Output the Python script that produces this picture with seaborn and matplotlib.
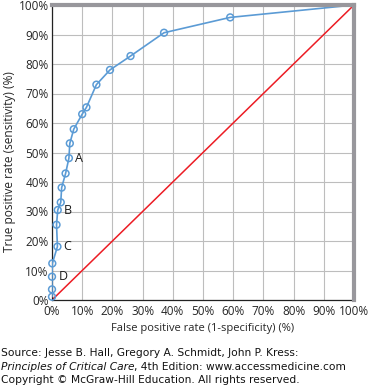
import matplotlib
matplotlib.use("Agg")
import matplotlib.pyplot as plt
import seaborn as sns
import pandas as pd

# ROC points (false positive rate %, true positive rate %)
fpr = [0.0, 0.0, 0.0, 0.1, 1.8, 1.5, 1.9, 2.9, 3.2, 4.5, 5.6, 5.9, 7.2, 10.0, 11.4,
       14.7, 19.2, 26.0, 37.1, 59.0, 100.0]
tpr = [1.1, 3.6, 7.9, 12.4, 18.1, 25.5, 30.5, 33.1, 38.1, 42.9, 48.1, 53.1, 57.9, 63.0,
       65.3, 73.0, 78.0, 82.7, 90.6, 95.8, 100.0]

point_labels = ["A", "B", "C", "D"]
label_fpr = [5.6, 1.9, 1.8, 0.0]
label_tpr = [48.1, 30.5, 18.1, 7.9]

chance = [0, 100]
ticks = list(range(0, 101, 10))
tick_labels = [f"{t}%" for t in ticks]

roc = pd.DataFrame({"fpr": fpr, "tpr": tpr})
diag = pd.DataFrame({"x": chance, "y": chance})

sns.set_style("white")
plt.rcParams["font.family"] = ["Open Sans", "DejaVu Sans"]

fig = plt.figure(figsize=(3.7, 3.87), dpi=100)
ax = fig.add_axes([52 / 370, 1 - 300 / 387, 302 / 370, 295 / 387])

blue = "#5b9bd5"
sns.lineplot(data=diag, x="x", y="y", ax=ax, color="#ec1c24", lw=1.1, zorder=2)
sns.lineplot(data=roc, x="fpr", y="tpr", ax=ax, color=blue, lw=1.2, sort=False,
             estimator=None, zorder=3)
ax.scatter(roc["fpr"][:-1], roc["tpr"][:-1], s=24, facecolor="none",
           edgecolor=blue, lw=1.1, zorder=4, clip_on=False)

for lab, x, y in zip(point_labels, label_fpr, label_tpr):
    ax.annotate(lab, (x, y), xytext=(4.5, 0), textcoords="offset points",
                va="center", ha="left", fontsize=9, color="#1a1a1a")

ax.set_xlim(0, 100)
ax.set_ylim(0, 100)
ax.set_xticks(ticks)
ax.set_yticks(ticks)
ax.set_xticklabels(tick_labels, fontsize=8.5)
ax.set_yticklabels(tick_labels, fontsize=8.5)
ax.tick_params(axis="x", length=0, pad=3.5)
ax.tick_params(axis="y", length=0, pad=2.5)
ax.grid(True, color="#bdbdbd", lw=0.8, zorder=0)
ax.set_axisbelow(True)

ax.spines["left"].set_color("#222222")
ax.spines["bottom"].set_color("#222222")
ax.spines["left"].set_linewidth(0.9)
ax.spines["bottom"].set_linewidth(0.9)
for side in ["top", "right"]:
    ax.spines[side].set_color("#98979c")
    ax.spines[side].set_linewidth(3)
    ax.spines[side].set_zorder(6)

ax.set_xlabel("False positive rate (1-specificity) (%)", fontsize=8, labelpad=4)
ax.set_ylabel("True positive rate (sensitivity) (%)", fontsize=8.6)
ax.yaxis.set_label_coords(-36 / 302, (300 - 162) / 295)

src = dict(fontsize=7.7, family="DejaVu Sans", color="#111111", va="top", ha="left")
fig.text(1 / 370, 1 - 348 / 387, "Source: Jesse B. Hall, Gregory A. Schmidt, John P. Kress:", **src)
ital = fig.text(1 / 370, 1 - 362 / 387, "Principles of Critical Care", style="italic", **src)
fig.canvas.draw()
bb = ital.get_window_extent().transformed(fig.transFigure.inverted())
fig.text(bb.x1, 1 - 362 / 387, ", 4th Edition: www.accessmedicine.com", **src)
fig.text(1 / 370, 1 - 375 / 387, "Copyright \u00a9 McGraw-Hill Education. All rights reserved.", **src)

fig.savefig("out.png", dpi=100)
